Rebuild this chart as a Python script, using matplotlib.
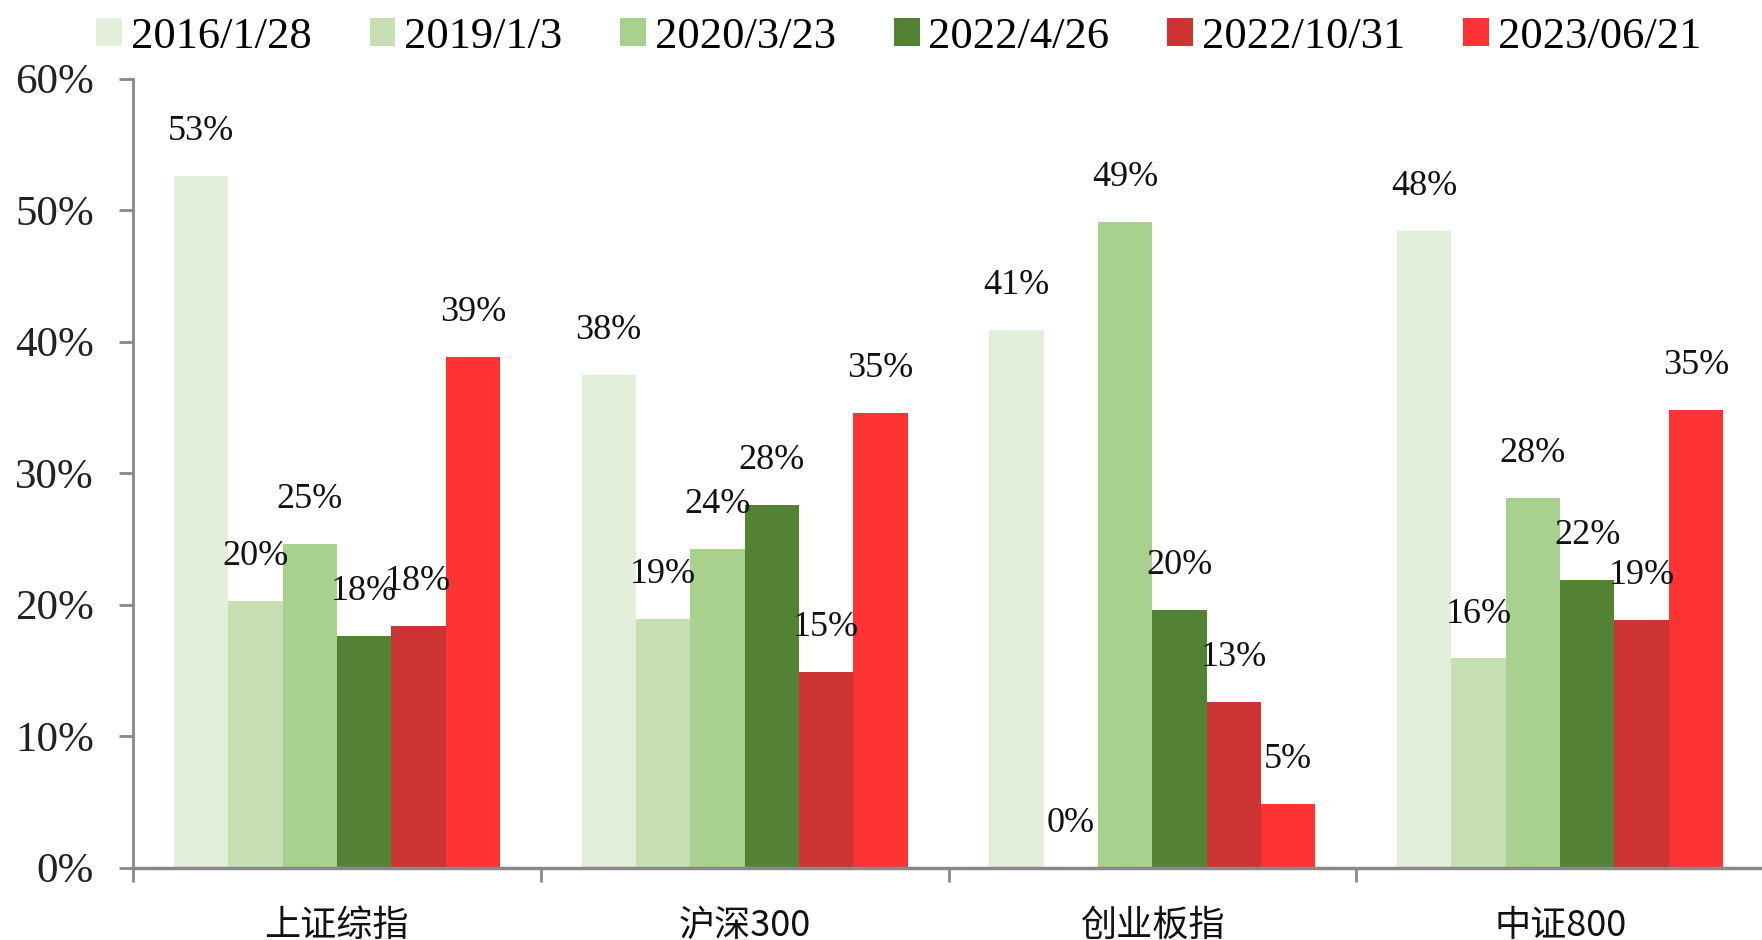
import numpy as np
import matplotlib
matplotlib.use('Agg')
import matplotlib.pyplot as plt

plt.rcParams['font.family'] = ['Liberation Serif', 'Noto Sans CJK SC', 'DejaVu Sans']

categories = ['上证综指', '沪深300', '创业板指', '中证800']
dates = ['2016/1/28', '2019/1/3', '2020/3/23', '2022/4/26', '2022/10/31', '2023/06/21']
colors = ['#E2EFDA', '#C6E0B4', '#A9D18E', '#548235', '#CC3333', '#FF3333']

# 每个日期对应四个指数的数值(%)
v_2016 = [52.6, 37.5, 40.9, 48.4]
v_2019 = [20.3, 18.9, 0.0, 15.9]
v_2020 = [24.6, 24.2, 49.1, 28.1]
v_2022a = [17.6, 27.6, 19.6, 21.9]
v_2022b = [18.4, 14.9, 12.6, 18.8]
v_2023 = [38.8, 34.6, 4.8, 34.8]
series = [v_2016, v_2019, v_2020, v_2022a, v_2022b, v_2023]

fig = plt.figure(figsize=(17.62, 9.40), dpi=100)
ax = fig.add_axes([133 / 1762, 1 - 867.5 / 940, (1764 - 133) / 1762, (867.5 - 78.7) / 940])

n = len(series)
w = 0.8 / n
x0 = np.arange(len(categories))
for j, vals in enumerate(series):
    xs = x0 + 0.1 + (j + 0.5) * w
    ax.bar(xs, vals, width=w, color=colors[j], label=dates[j], zorder=2)

# 数据标签放在最后画, 压在柱子上面
for j, vals in enumerate(series):
    xs = x0 + 0.1 + (j + 0.5) * w
    for x, v in zip(xs, vals):
        ax.annotate('%d%%' % round(v), (x, v), xytext=(0, 32), textcoords='offset points',
                    ha='center', va='center', fontsize=26, color='#111111', zorder=5)

ax.set_xlim(0, len(categories))
ax.set_ylim(0, 60)
ax.set_yticks(np.arange(0, 61, 10))
ax.set_yticklabels(['%d%%' % t for t in range(0, 61, 10)])
ax.set_xticks(np.arange(len(categories) + 1))
ax.set_xticklabels([])
ax.set_xticks(x0 + 0.5, minor=True)
ax.set_xticklabels(categories, minor=True, family=['Noto Sans CJK SC', 'DejaVu Sans'])

ax.tick_params(axis='y', direction='out', length=10, width=2, color='#888888',
               labelsize=31, pad=18, labelcolor='#222222')
ax.tick_params(axis='x', which='major', direction='out', length=10, width=2, color='#888888')
ax.tick_params(axis='x', which='minor', length=0, labelsize=26, pad=29, labelcolor='#111111')

for s in ['top', 'right']:
    ax.spines[s].set_visible(False)
ax.spines['left'].set_color('#888888')
ax.spines['left'].set_linewidth(2)
ax.spines['bottom'].set_color('#888888')
ax.spines['bottom'].set_linewidth(2.5)

fig.legend(loc='center', bbox_to_anchor=(0.51, 1 - 37 / 940), ncol=6, frameon=False,
           fontsize=32, handlelength=0.58, handleheight=0.58, handletextpad=0.2,
           columnspacing=1.3, borderaxespad=0)

fig.savefig('out.png', dpi=100)
